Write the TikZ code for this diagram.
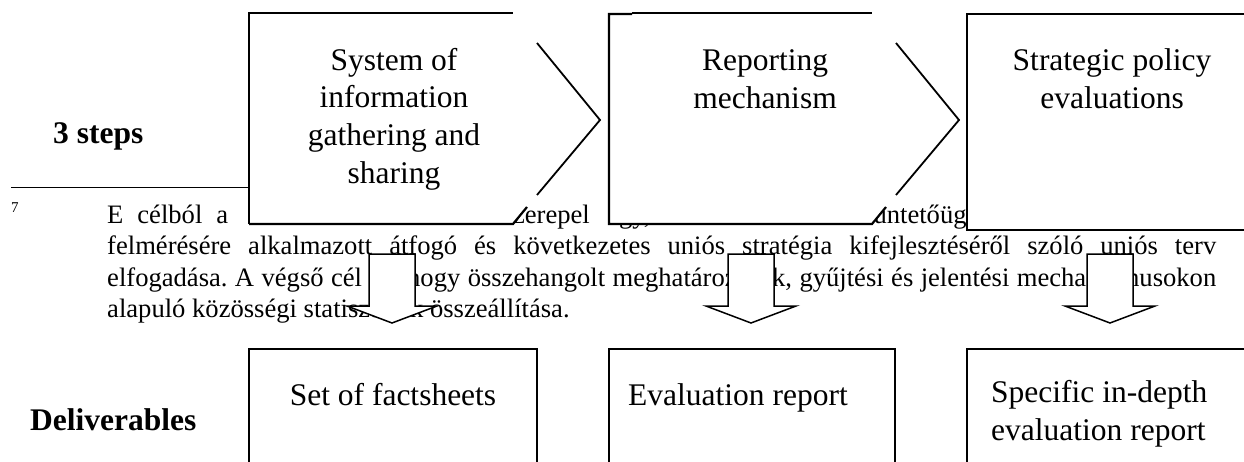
\documentclass[tikz,border=0pt]{standalone}
\usepackage{fontspec}
\setmainfont{Liberation Serif}
\frenchspacing
\tikzset{
  fnote/.style={font=\fontsize{26.6}{31}\selectfont,inner sep=0pt},
  boxtext/.style={font=\fontsize{31.5}{37.6}\selectfont,inner sep=0pt},
  rowlabel/.style={font=\fontsize{31.5}{37.6}\selectfont\bfseries,inner sep=0pt},
  thinline/.style={line width=1.1pt},
  thickline/.style={line width=2.2pt},
  outbox/.style={draw,line width=1.3pt},
  downarrow/.style={draw,fill=white,line width=1.5pt,line join=miter},
}

\begin{document}
\begin{tikzpicture}[x=1pt,y=-1pt]
\useasboundingbox (0,0) rectangle (1244,461);
\clip (0,0) rectangle (1244,461);
% footnote of the page, partly hidden by the diagram
\draw[line width=1pt] (11,187) -- (249,187);
\node[font=\fontsize{15}{18}\selectfont,inner sep=0pt,anchor=base west] (fnmark) at (11,212) {7};
\node[fnote,anchor=base west] (fn1a) at (107,223) {\makebox[121pt][s]{E célból a}};
\node[fnote,anchor=base east] (fn1b) at (590,223) {szerepel};
\node[fnote,anchor=base west] (fn1c) at (607,223) {egy,};
\node[fnote,anchor=base west] (fn1d) at (860,223) {büntetőügyi};
\node[fnote,anchor=base west] (fn2) at (107,254) {\makebox[1109pt][s]{felmérésére alkalmazott átfogó és következetes uniós stratégia kifejlesztéséről szóló uniós terv}};
\node[fnote,anchor=base west] (fn3) at (107,286) {\makebox[1109pt][s]{elfogadása. A végső cél az, hogy összehangolt meghatározások, gyűjtési és jelentési mechanizmusokon}};
\node[fnote,anchor=base west] (fn4) at (107,317) {alapuló közösségi statisztikák összeállítása.};

% step 1
\fill[white] (249,13) -- (513,13) -- (600,120) -- (513,224) -- (249,224) -- cycle;
\draw[thinline] (249,224) -- (249,13) -- (513,13);
\draw[thickline] (249,224) -- (513,224) -- (527,207);
\draw[line width=1.8pt] (537,43) -- (600,120) -- (537,195);
% step 2
\fill[white] (609,13) -- (872,13) -- (959,120) -- (872,224) -- (609,224) -- cycle;
\draw[thinline] (632,13) -- (872,13);
\draw[thickline] (632,14) -- (609,14) -- (609,224) -- (872,224) -- (886,207);
\draw[line width=1.8pt] (896,43) -- (959,120) -- (896,195);
% step 3
\fill[white] (967,14) rectangle (1260,230);
\draw[thickline] (1260,14) -- (967,14) -- (967,230) -- (1260,230);

% base of a node with lines = baseline of its last line
\node[boxtext,align=center,anchor=base] (sys) at (394,183) {System of\\information\\gathering and\\sharing};
\node[boxtext,align=center,anchor=base] (rep) at (765,108) {Reporting\\mechanism};
\node[boxtext,align=center,anchor=base] (strat) at (1112,108) {Strategic policy\\evaluations};

% deliverables
\draw[outbox] (249,349) rectangle (537,470);
\draw[outbox] (609,349) rectangle (895,470);
\draw[outbox] (967,349) rectangle (1260,470);
\node[boxtext,anchor=base] (facts) at (393,405) {Set of factsheets};
\node[boxtext,anchor=base west] (evalrep) at (628,405) {Evaluation report};
\node[boxtext,align=left,anchor=base west] (indepth) at (991,440) {Specific in-depth\\evaluation report};

% block arrows
\draw[downarrow] (369,254) -- (415,254) -- (415,306) -- (437,306) -- (392,323) -- (347,306) -- (369,306) -- cycle;
\draw[downarrow] (728,254) -- (774,254) -- (774,306) -- (796,306) -- (751,323) -- (706,306) -- (728,306) -- cycle;
\draw[downarrow] (1087,254) -- (1133,254) -- (1133,306) -- (1155,306) -- (1110,323) -- (1065,306) -- (1087,306) -- cycle;

\node[rowlabel,anchor=base west] (steps) at (53,143) {3 steps};
\node[rowlabel,anchor=base west] (deliv) at (30,430) {Deliverables};
\end{tikzpicture}
\end{document}
